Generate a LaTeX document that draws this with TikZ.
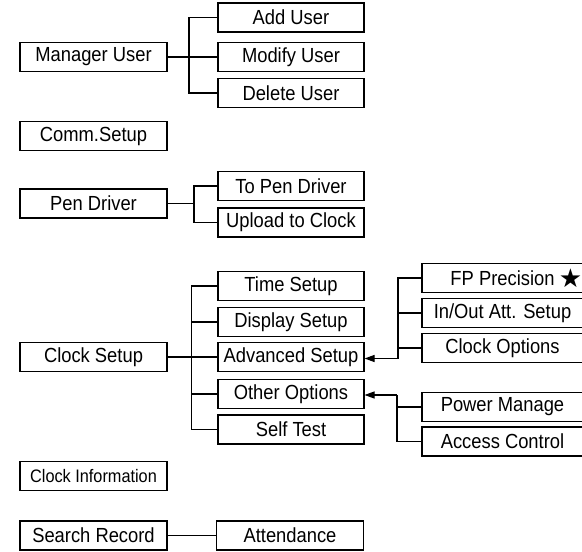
\documentclass[tikz,border=0pt]{standalone}
\usepackage{fontspec}
\setmainfont{Liberation Sans}[FakeStretch=0.9]
\newfontfamily\symfont{DejaVu Sans}
\usetikzlibrary{arrows.meta}

\begin{document}
\begin{tikzpicture}[x=1pt, y=-1pt, line width=1.1pt,
    font=\fontsize{20.4}{24}\selectfont,
    menu/.style={draw, rectangle, inner sep=0pt, minimum height=29pt},
    leftbox/.style={menu, minimum width=147pt},
    midbox/.style={menu, minimum width=146pt},
    rightbox/.style={menu, minimum width=161pt},
    arrowtip/.style={-{Triangle[length=10pt, width=7pt]}}]
  \useasboundingbox (0, 0) rectangle (582, 552);

  % main menu
  \node[leftbox] at (93.5, 57) (mgr) {Manager User};
  \node[leftbox] at (93.5, 136) (comm) {Comm.Setup};
  \node[leftbox] at (93.5, 203.5) (pen) {Pen Driver};
  \node[leftbox] at (93.5, 357) (clk) {Clock Setup};
  \node[leftbox, font=\fontsize{18.1}{21}\selectfont] at (93.5, 476) (info) {Clock Information};
  \node[leftbox] at (93.5, 535.5) (search) {Search Record};

  % manager user
  \node[midbox] at (291, 17.5) (add) {Add User};
  \node[midbox] at (291, 57) (modify) {Modify User};
  \node[midbox] at (291, 93) (delete) {Delete User};
  \coordinate (mgrbus) at (189, 57);
  \draw (mgr) -- (modify);
  \draw (add.west) -| (mgrbus);
  \draw (delete.west) -| (mgrbus);

  % pen driver
  \node[midbox] at (291, 186) (topen) {To Pen Driver};
  \node[midbox] at (291, 222.5) (upload) {Upload to Clock};
  \coordinate (penbus) at (194, 203.5);
  \draw (pen) -- (penbus);
  \draw (topen.west) -| (penbus);
  \draw (upload.west) -| (penbus);

  % clock setup
  \node[midbox] at (291, 286) (time) {Time Setup};
  \node[midbox] at (291, 322) (display) {Display Setup};
  \node[midbox] at (291, 357) (adv) {Advanced Setup};
  \node[midbox] at (291, 394) (other) {Other Options};
  \node[midbox] at (291, 429.5) (self) {Self Test};
  \coordinate (clkbus) at (191.5, 357);
  \draw (clk) -- (adv);
  \draw (time.west) -| (clkbus);
  \draw (display.west) -| (clkbus);
  \draw (other.west) -| (clkbus);
  \draw (self.west) -| (clkbus);

  % advanced setup
  \node[rightbox] at (502.5, 278) (fp) {FP Precision};
  \node at (570.5, 278.5) (star) {\symfont\fontsize{26}{26}\selectfont ★};
  \node[rightbox] at (502.5, 313) (inout) {In/Out Att. Setup};
  \node[rightbox] at (502.5, 348) (clkopt) {Clock Options};
  \coordinate (advbus) at (398, 358.5);
  \draw (fp.west) -| (advbus);
  \draw (inout.west) -| (advbus);
  \draw (clkopt.west) -| (advbus);
  \draw[arrowtip] (advbus) -- (adv.east |- advbus);

  % other options
  \node[rightbox] at (502.5, 407) (power) {Power Manage};
  \node[rightbox] at (502.5, 441.5) (access) {Access Control};
  \coordinate (othbus) at (397, 395);
  \draw (power.west) -| (othbus);
  \draw (access.west) -| (othbus);
  \draw[arrowtip] (othbus) -- (other.east |- othbus);

  % search record
  \node[midbox, minimum width=147pt] at (290, 535.5) (attend) {Attendance};
  \draw (search) -- (attend);
\end{tikzpicture}
\end{document}
